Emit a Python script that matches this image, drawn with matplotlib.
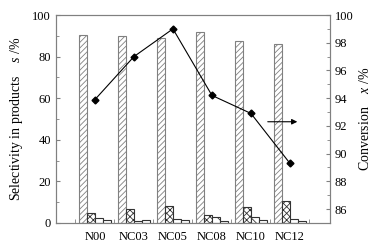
import numpy as np
import matplotlib
matplotlib.use("Agg")
import matplotlib.pyplot as plt
from matplotlib.ticker import MultipleLocator, FixedLocator

plt.rcParams['font.family'] = 'Liberation Serif'
plt.rcParams['mathtext.fontset'] = 'custom'
plt.rcParams['mathtext.rm'] = 'Liberation Serif'
plt.rcParams['mathtext.it'] = 'Liberation Serif:italic'
plt.rcParams['font.size'] = 9
plt.rcParams['hatch.linewidth'] = 0.6
plt.rcParams['hatch.color'] = '#555555'

# datos
catalysts = ['N00', 'NC03', 'NC05', 'NC08', 'NC10', 'NC12']
sel_main = [90.4, 90.0, 88.9, 91.8, 87.5, 86.0]
sel_p2 = [4.8, 6.7, 8.2, 3.7, 7.8, 10.7]
sel_p3 = [2.4, 1.0, 1.8, 2.7, 2.7, 1.8]
sel_p4 = [1.4, 1.4, 1.5, 1.0, 1.4, 1.0]
conversion = [93.9, 97.0, 99.0, 94.2, 92.9, 89.3]

gray = '#808080'
x = np.arange(len(catalysts))
w = 0.2

fig = plt.figure(figsize=(3.73, 2.48), dpi=100)
ax1 = fig.add_axes([0.150, 0.101, 0.735, 0.8385])

ax1.bar(x - 1.5 * w, sel_main, w, color='white', edgecolor=gray, hatch='//////', linewidth=0.8)
ax1.bar(x - 0.5 * w, sel_p2, w, color='white', edgecolor='#333333', hatch='xxxxx', linewidth=0.8)
ax1.bar(x + 0.5 * w, sel_p3, w, color='white', edgecolor='#333333', hatch='\\', linewidth=0.8)
ax1.bar(x + 1.5 * w, sel_p4, w, color='white', edgecolor='#333333', linewidth=0.8)

ax1.set_xlim(-1, 6.03)
ax1.set_ylim(0, 100)
ax1.set_xticks(x)
ax1.set_xticklabels(catalysts)
ax1.xaxis.set_minor_locator(FixedLocator(np.arange(-0.5, 6, 1)))
ax1.yaxis.set_major_locator(MultipleLocator(20))
ax1.yaxis.set_minor_locator(MultipleLocator(10))
ax1.tick_params(axis='x', which='major', length=0, pad=6)
ax1.tick_params(axis='x', which='minor', direction='in', length=3, color=gray)
ax1.tick_params(axis='y', which='both', direction='in', color=gray, right=False)
ax1.tick_params(axis='y', which='major', length=3)
ax1.tick_params(axis='y', which='minor', length=2)
ax1.set_ylabel(r'Selectivity in products    $s$ /%', fontsize=10, labelpad=5)
for s in ax1.spines.values():
    s.set_color(gray)
    s.set_linewidth(0.8)

ax2 = ax1.twinx()
ax2.plot(x, conversion, color='black', marker='D', markersize=3.5, linewidth=0.8)
ax2.set_ylim(85, 100)
ax2.yaxis.set_minor_locator(MultipleLocator(1))
ax2.set_yticks(np.arange(86, 101, 2))
ax2.tick_params(axis='y', which='both', direction='in', color=gray)
ax2.tick_params(axis='y', which='major', length=3)
ax2.tick_params(axis='y', which='minor', length=2)
ax2.set_ylabel(r'Conversion    $x$ /%', fontsize=10, labelpad=3)
for s in ax2.spines.values():
    s.set_color(gray)
    s.set_linewidth(0.8)

# flecha hacia el eje derecho
ax2.annotate('', xy=(5.26, 92.3), xytext=(4.36, 92.3),
             arrowprops=dict(arrowstyle='-|>', color='black', lw=0.8, mutation_scale=8))

fig.savefig('out.png', dpi=100)
